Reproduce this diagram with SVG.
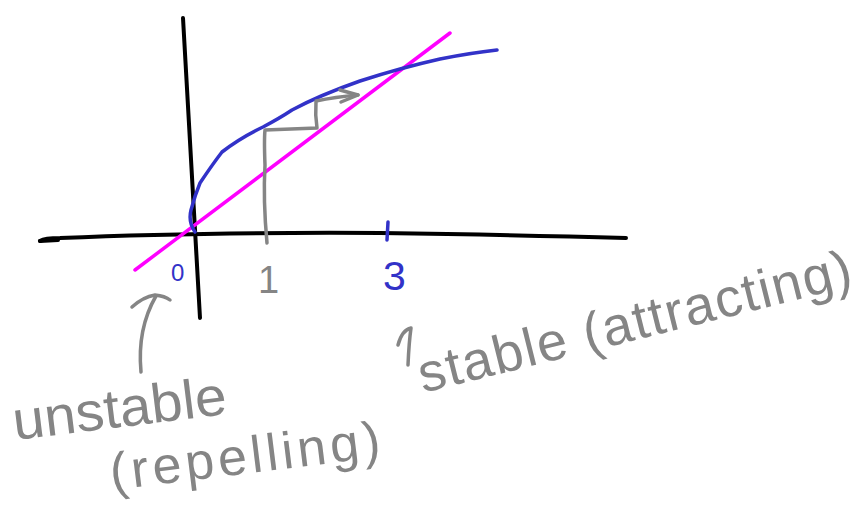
<svg xmlns="http://www.w3.org/2000/svg" width="861" height="506" viewBox="0 0 861 506">
<style>
.s{fill:none;stroke-linecap:round;stroke-linejoin:round}
.k{stroke:#000;stroke-width:4}
.m{stroke:#ff00ff;stroke-width:3.5}
.b{stroke:#3232c8;stroke-width:3.5}
.g{stroke:#858585;stroke-width:3.5}
.t{font-family:"Liberation Sans","DejaVu Sans",sans-serif;fill:#858585}
</style>
<rect width="861" height="506" fill="#fff"/>
<g id="axes">
<path class="s k" d="M183,18 Q191,160 200,318"/>
<path class="s k" d="M40,241 Q45,238 60,238 Q200,232 380,233 Q520,235 626,238" />
<path class="s k" stroke-width="6" d="M40,241 L58,240"/>
</g>
<g id="connectors">
<path class="s m" d="M135,270 L450,33"/>
<path class="s b" d="M195,232 Q188,222 191,210 Q195,195 200,183 Q212,165 222,152 Q240,138 263,127 Q280,118 292,110 Q320,95 360,81 Q400,68 440,59 Q470,53 497,50"/>
<path class="s b" d="M388,222 L387,240"/>
<path class="s g" d="M267,243 Q263,200 265,165 Q264,140 265,130 L317,128 Q315,115 316,101 Q335,97 358,95"/>
<path class="s g" d="M340,90 L358,95 L341,102"/>
<path class="s g" d="M141,372 C138,340 145,315 156,296"/>
<path class="s g" d="M132,307 Q143,297 155,295 Q165,296 170,300"/>
<path class="s g" d="M408,365 Q409,342 411,328 Q402,330 398,345"/>
</g>
<g id="labels">
<text x="171" y="281" font-family="Liberation Sans,sans-serif" font-size="24" fill="#3232c8">0</text>
<text x="258" y="293" class="t" font-size="38">1</text>
<text x="383" y="290" font-family="Liberation Sans,sans-serif" font-size="41" fill="#3232c8">3</text>
<text class="t" font-size="55" transform="translate(15,440) rotate(-7)" textLength="215" lengthAdjust="spacingAndGlyphs">unstable</text>
<text class="t" font-size="52" transform="translate(112,490) rotate(-7)" textLength="272" lengthAdjust="spacing">(repelling)</text>
<text class="t" font-size="54" transform="translate(423,393) rotate(-14)" textLength="445" lengthAdjust="spacing">stable (attracting)</text>
</g>
</svg>
